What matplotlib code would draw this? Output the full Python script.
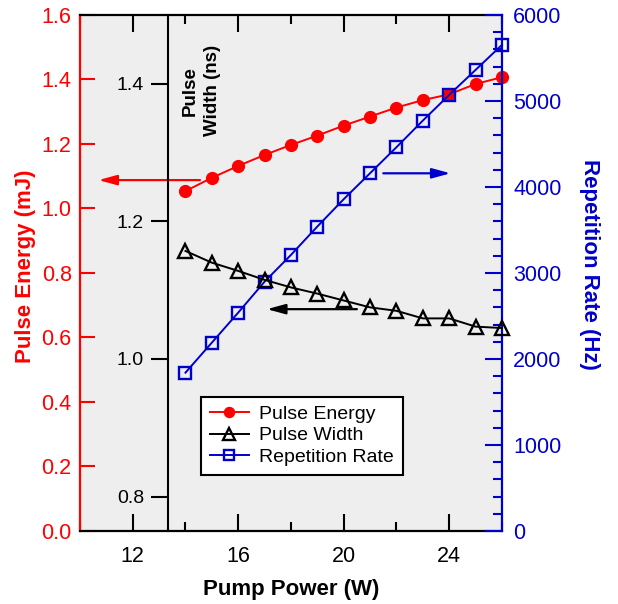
# plot.py
# Three-axis pump-power chart: pulse energy (left, red), repetition rate
# (right, blue) and pulse width (an inner black axis standing at ~13.35 W).

import matplotlib
matplotlib.use("Agg")
import matplotlib.pyplot as plt
from matplotlib.ticker import FixedLocator, MultipleLocator, FormatStrFormatter

plt.rcParams["font.family"] = ["Liberation Sans", "DejaVu Sans"]

RED = "#FF0000"
BLUE = "#0000CC"
BLACK = "#000000"

# --- data ------------------------------------------------------------------
pump_power = [14, 15, 16, 17, 18, 19, 20, 21, 22, 23, 24, 25, 26]
pulse_energy = [1.054, 1.095, 1.132, 1.166, 1.197, 1.226, 1.257,
                1.285, 1.313, 1.336, 1.354, 1.386, 1.407]
pulse_width = [1.157, 1.140, 1.128, 1.115, 1.104, 1.095, 1.085,
               1.075, 1.070, 1.059, 1.059, 1.047, 1.045]
rep_rate = [1841, 2190, 2539, 2899, 3210, 3540, 3858,
            4160, 4462, 4772, 5071, 5361, 5652]

x_ticks = [12, 16, 20, 24]
energy_ticks = [0.0, 0.2, 0.4, 0.6, 0.8, 1.0, 1.2, 1.4, 1.6]
width_ticks = [0.8, 1.0, 1.2, 1.4]
rate_ticks = [0, 1000, 2000, 3000, 4000, 5000, 6000]

series_labels = ["Pulse Energy", "Pulse Width", "Repetition Rate"]


def arrow(ax, x0, x1, y, color):
    ax.annotate("", xy=(x1, y), xytext=(x0, y),
                arrowprops=dict(arrowstyle="-|>,head_length=0.55,head_width=0.15",
                                color=color, lw=1.6, shrinkA=0, shrinkB=0,
                                mutation_scale=20))


fig = plt.figure(figsize=(6.18, 6.04), dpi=100)
ax = fig.add_axes([0.1294, 0.1209, 0.6828, 0.8543])
ax.set_facecolor("#EEEEEE")

# pulse energy (left axis)
h_e, = ax.plot(pump_power, pulse_energy, color=RED, lw=1.4, marker="o", ms=8.5,
               mec=RED, mfc=RED, clip_on=False, label=series_labels[0])
ax.set_xlim(10, 26)
ax.set_ylim(0, 1.6)
ax.xaxis.set_major_locator(FixedLocator(x_ticks))
ax.xaxis.set_minor_locator(MultipleLocator(2))
ax.yaxis.set_major_locator(FixedLocator(energy_ticks))
ax.yaxis.set_major_formatter(FormatStrFormatter("%.1f"))
ax.tick_params(axis="x", which="both", direction="in", top=True, colors=BLACK,
               labelsize=15.5, pad=11)
ax.tick_params(axis="x", which="major", length=12, width=1.5)
ax.tick_params(axis="x", which="minor", length=6.5, width=1.5)
ax.tick_params(axis="y", direction="in", length=11, width=1.5, colors=RED,
               labelsize=15.5, pad=6)
for s in ("top", "bottom"):
    ax.spines[s].set_linewidth(1.6)
ax.spines["left"].set_color(RED)
ax.spines["left"].set_linewidth(1.6)
ax.spines["right"].set_visible(False)

ax.set_xlabel("Pump Power (W)", fontsize=16, fontweight="bold", va="center")
ax.xaxis.set_label_coords(0.5, -0.114)
ax.set_ylabel("Pulse Energy (mJ)", fontsize=16, fontweight="bold", color=RED,
              va="center")
ax.yaxis.set_label_coords(-0.130, 0.514)

# repetition rate (right axis)
ax2 = ax.twinx()
h_r, = ax2.plot(pump_power, rep_rate, color=BLUE, lw=1.4, marker="s", ms=8,
                mfc="none", mec=BLUE, mew=1.7, clip_on=False,
                label=series_labels[2])
ax2.set_ylim(0, 6000)
ax2.yaxis.set_major_locator(FixedLocator(rate_ticks))
ax2.yaxis.set_minor_locator(MultipleLocator(200))
ax2.tick_params(axis="y", which="both", direction="in", colors=BLUE,
                labelsize=15.5, pad=8, width=1.5)
ax2.tick_params(axis="y", which="major", length=12)
ax2.tick_params(axis="y", which="minor", length=6.5)
for s in ("left", "top", "bottom"):
    ax2.spines[s].set_visible(False)
ax2.spines["right"].set_color(BLUE)
ax2.spines["right"].set_linewidth(1.6)
ax2.set_ylabel("Repetition Rate (Hz)", fontsize=16, fontweight="bold",
               color=BLUE, rotation=270, va="center")
ax2.yaxis.set_label_coords(1.2085, 0.516)

# pulse width (inner axis)
ax3 = ax.twinx()
h_w, = ax3.plot(pump_power, pulse_width, color=BLACK, lw=1.4, marker="^", ms=9.5,
                mfc="none", mec=BLACK, mew=1.7, clip_on=False,
                label=series_labels[1])
ax3.set_ylim(0.75, 1.5)
ax3.yaxis.tick_left()
ax3.yaxis.set_major_locator(FixedLocator(width_ticks))
ax3.yaxis.set_major_formatter(FormatStrFormatter("%.1f"))
ax3.tick_params(axis="y", direction="out", length=12.5, width=1.5,
                colors=BLACK, labelsize=14, pad=5)
for s in ("right", "top", "bottom"):
    ax3.spines[s].set_visible(False)
ax3.spines["left"].set_position(("data", 13.35))
ax3.spines["left"].set_linewidth(1.5)
ax3.text(14.6, 0.853, "Pulse\nWidth (ns)", transform=ax3.get_xaxis_transform(),
         rotation=90, ha="center", va="center", multialignment="center",
         fontsize=13.5, fontweight="bold", linespacing=1.35)

# direction arrows
arrow(ax, 14.55, 10.7, 1.088, RED)
arrow(ax2, 21.5, 24.05, 4159, BLUE)
arrow(ax3, 20.5, 17.09, 1.0724, BLACK)

leg = ax3.legend(handles=[h_e, h_w, h_r], loc="lower left",
                 bbox_to_anchor=(0.287, 0.109), borderaxespad=0,
                 fontsize=14, fancybox=False, framealpha=1, edgecolor=BLACK,
                 handlelength=2.0, handletextpad=0.55, labelspacing=0.2,
                 borderpad=0.45, markerscale=0.85)
leg.get_frame().set_linewidth(1.5)

fig.savefig("out.png", dpi=100)
